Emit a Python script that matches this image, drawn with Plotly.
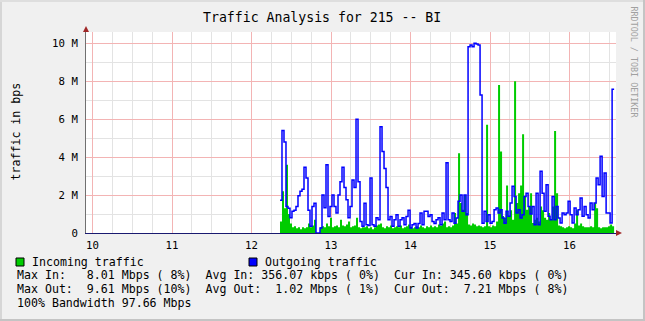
import plotly.graph_objects as go

# ---------------- data ----------------
START_HOUR = 12 + 21.5 / 60.0     # first sample time (hours)
STEP_MIN = 1.51                    # sample spacing (minutes)

# Incoming traffic (Mbps)
incoming = [
    0.6, 2.2, 1.3, 3.6, 1.0, 0.5, 0.3, 0.35, 0.25, 0.3,
    0.2, 0.3, 0.25, 0.3, 0.5, 0.3, 0.4, 0.7, 0.0, 0.0,
    0.3, 0.35, 0.3, 0.5, 0.35, 0.8, 0.3, 0.35, 0.4, 0.3,
    0.7, 0.4, 0.35, 0.45, 0.6, 0.3, 0.35, 0.4, 0.8, 0.3,
    0.25, 0.3, 0.3, 0.35, 0.25, 0.3, 0.2, 0.3, 0.4, 0.45,
    0.5, 0.3, 0.25, 0.35, 0.3, 0.4, 0.25, 0.3, 0.35, 0.3,
    0.4, 0.25, 0.3, 0.35, 0.45, 0.3, 0.25, 0.3, 0.35, 0.3,
    0.4, 0.3, 0.25, 0.35, 0.3, 0.4, 0.3, 0.35, 0.3, 0.45,
    0.4, 0.5, 0.6, 0.3, 0.35, 0.3, 0.4, 1.05, 0.5, 4.2,
    1.58, 1.23, 2.0, 1.05, 0.45, 0.4, 0.5, 0.45, 0.35, 0.4,
    0.35, 0.3, 0.35, 5.7, 0.35, 0.3, 0.4, 0.35, 0.6, 7.8,
    4.3, 0.9, 0.8, 2.5, 0.9, 1.2, 0.7, 8.0, 1.58, 2.1,
    2.5, 5.2, 1.93, 1.23, 1.4, 2.1, 0.53, 0.7, 0.8, 0.6,
    1.4, 1.2, 0.8, 0.7, 1.05, 0.7, 1.4, 5.38, 2.1, 0.4,
    0.35, 0.3, 0.25, 0.3, 0.35, 0.3, 0.25, 0.5, 1.2, 0.4,
    0.5, 0.35, 0.3, 0.3, 0.3, 0.35, 0.3, 1.58, 1.3, 0.3,
    0.25, 0.3, 0.3, 0.3, 0.35, 0.45, 0.35,
]

# Outgoing traffic (Mbps)
outgoing = [
    1.72, 5.4, 4.8, 1.4, 1.3, 0.8, 1.15, 1.2, 1.4, 1.97,
    2.2, 2.3, 3.47, 2.9, 1.2, 0.35, 1.4, 1.57, 0.0, 0.0,
    0.26, 2.0, 1.33, 3.6, 0.87, 1.4, 2.0, 1.4, 1.05, 2.0,
    2.7, 3.47, 2.4, 1.75, 0.8, 1.4, 2.8, 2.4, 6.0, 2.7,
    0.6, 0.35, 1.57, 0.43, 0.4, 2.9, 0.43, 0.35, 0.8, 0.7,
    5.6, 4.3, 3.4, 2.4, 0.7, 0.87, 0.35, 0.7, 0.96, 0.35,
    0.7, 0.8, 0.43, 0.87, 1.2, 0.26, 0.43, 0.5, 0.26, 0.5,
    1.05, 0.43, 1.15, 1.15, 0.87, 0.96, 0.6, 0.5, 0.7, 0.8,
    0.43, 1.05, 0.7, 3.7, 0.7, 0.61, 1.05, 0.52, 0.79, 1.67,
    2.0, 1.14, 2.0, 0.96, 9.82, 9.91, 9.82, 10.0, 9.96, 9.91,
    7.28, 0.52, 1.14, 0.61, 0.96, 0.52, 0.61, 1.23, 1.32, 1.05,
    1.23, 0.79, 0.52, 1.14, 0.88, 1.58, 2.46, 1.93, 1.05, 1.23,
    0.79, 0.96, 1.93, 2.1, 1.4, 1.0, 1.4, 0.44, 2.1, 0.44,
    3.25, 2.1, 1.14, 2.54, 0.88, 0.7, 1.93, 0.7, 1.4, 0.79,
    0.53, 1.05, 0.96, 1.05, 1.67, 0.96, 0.53, 1.32, 0.96, 1.23,
    1.84, 0.88, 1.4, 0.96, 0.79, 1.58, 1.23, 1.58, 2.9, 2.54,
    4.04, 1.93, 3.16, 1.05, 1.05, 0.53, 7.58,
]

x_ticks = [10, 11, 12, 13, 14, 15, 16]
x_ticktext = ["10", "11", "12", "13", "14", "15", "16"]
y_ticks = [0, 2, 4, 6, 8, 10]
y_ticktext = ["0", "2 M", "4 M", "6 M", "8 M", "10 M"]

title_text = "Traffic Analysis for 215 -- BI"
y_title = "traffic in bps"
legend_in = "Incoming traffic"
legend_out = "Outgoing traffic"
stat_lines = [
    "Max In:   8.01 Mbps ( 8%)  Avg In: 356.07 kbps ( 0%)  Cur In: 345.60 kbps ( 0%)",
    "Max Out:  9.61 Mbps (10%)  Avg Out:  1.02 Mbps ( 1%)  Cur Out:  7.21 Mbps ( 8%)",
    "100% Bandwidth 97.66 Mbps",
]
credit = "RRDTOOL / TOBI OETIKER"

# ---------------- figure ----------------
W, H = 645, 321
L, R, T, B = 86, 29, 32, 88
PW, PH = W - L - R, H - T - B

def px(x):
    return (x - L) / PW

def py(y):
    return (H - B - y) / PH

n = len(outgoing)
times = [START_HOUR + i * STEP_MIN / 60.0 for i in range(n + 1)]
inc_y = incoming + [incoming[-1]]
out_y = outgoing + [outgoing[-1]]

MONO = "DejaVu Sans Mono"
GREEN = "#00cc00"
BLUE = "#0000ff"

fig = go.Figure()
fig.add_trace(go.Scatter(
    x=times, y=inc_y, mode="lines",
    line=dict(shape="hv", width=0, color=GREEN),
    fill="tozeroy", fillcolor=GREEN, hoverinfo="skip", showlegend=False))
fig.add_trace(go.Scatter(
    x=times, y=out_y, mode="lines",
    line=dict(shape="hv", width=1.5, color=BLUE),
    hoverinfo="skip", showlegend=False))

fig.update_layout(
    width=W, height=H,
    margin=dict(l=L, r=R, t=T, b=B, pad=0),
    paper_bgcolor="#f0f0f0", plot_bgcolor="#ffffff",
    showlegend=False,
    font=dict(family=MONO, color="#000000"),
    xaxis=dict(
        range=[10 - (92.5 - L) / 79.5, 10 + (W - R - 92.5) / 79.5],
        tickmode="array", tickvals=x_ticks, ticktext=x_ticktext,
        showgrid=True, gridcolor="#f3b4b4", gridwidth=1,
        minor=dict(dtick=0.25, tick0=10, showgrid=True, gridcolor="#e3e3e3", gridwidth=1, ticks=""),
        showline=True, linecolor="#1a1a70", linewidth=1,
        zeroline=False, ticks="outside", ticklen=2, tickcolor="rgba(0,0,0,0)",
        tickfont=dict(family=MONO, size=10.7, color="#000000"),
        fixedrange=True,
    ),
    yaxis=dict(
        range=[0, 10 + (43.3 - T) / 19],
        tickmode="array", tickvals=y_ticks, ticktext=y_ticktext,
        showgrid=True, gridcolor="#f3b4b4", gridwidth=1,
        minor=dict(dtick=1, tick0=0, showgrid=True, gridcolor="#e3e3e3", gridwidth=1, ticks=""),
        showline=True, linecolor="#707070", linewidth=1,
        zeroline=False, ticks="outside", ticklen=5, tickcolor="rgba(0,0,0,0)",
        tickfont=dict(family=MONO, size=10.7, color="#000000"),
        fixedrange=True,
    ),
)

shapes = []
ARROW = "#a02828"
# y-axis arrow (top)
shapes.append(dict(type="path", xref="paper", yref="paper",
                   path=f"M {px(83)} {py(32)} L {px(89)} {py(32)} L {px(86)} {py(26)} Z",
                   fillcolor=ARROW, line=dict(width=0)))
# x-axis extension and arrow (right)
shapes.append(dict(type="line", xref="paper", yref="paper",
                   x0=px(616), x1=px(619), y0=py(233), y1=py(233),
                   line=dict(color="#555555", width=1)))
shapes.append(dict(type="path", xref="paper", yref="paper",
                   path=f"M {px(616)} {py(230)} L {px(616)} {py(236)} L {px(622)} {py(233)} Z",
                   fillcolor=ARROW, line=dict(width=0)))
# legend swatches
shapes.append(dict(type="rect", xref="paper", yref="paper",
                   x0=px(16), x1=px(24), y0=py(266), y1=py(258),
                   fillcolor=GREEN, line=dict(color="#000000", width=1)))
shapes.append(dict(type="rect", xref="paper", yref="paper",
                   x0=px(249), x1=px(257), y0=py(266), y1=py(258),
                   fillcolor=BLUE, line=dict(color="#000000", width=1)))
# 3D border
shapes.append(dict(type="rect", xref="paper", yref="paper",
                   x0=px(0), x1=px(2), y0=py(0), y1=py(H),
                   fillcolor="#d6d6d6", line=dict(width=0)))
shapes.append(dict(type="rect", xref="paper", yref="paper",
                   x0=px(0), x1=px(W), y0=py(0), y1=py(2),
                   fillcolor="#dedede", line=dict(width=0)))
shapes.append(dict(type="rect", xref="paper", yref="paper",
                   x0=px(W - 2), x1=px(W), y0=py(0), y1=py(H),
                   fillcolor="#c4c4c4", line=dict(width=0)))
shapes.append(dict(type="rect", xref="paper", yref="paper",
                   x0=px(0), x1=px(W), y0=py(H - 2), y1=py(H),
                   fillcolor="#c4c4c4", line=dict(width=0)))
fig.update_layout(shapes=shapes)

def nb(s):
    return s.replace(" ", "\u00a0")

ann = []
ann.append(dict(text=nb(title_text), x=px(322), y=py(17), xref="paper", yref="paper",
                xanchor="center", yanchor="middle", showarrow=False,
                font=dict(family=MONO, size=13.2, color="#000000")))
ann.append(dict(text=nb(y_title), x=px(15), y=py(131.5), xref="paper", yref="paper",
                xanchor="center", yanchor="middle", showarrow=False, textangle=-90,
                font=dict(family=MONO, size=11.6, color="#000000")))
ann.append(dict(text=nb(credit), x=px(634), y=py(62.5), xref="paper", yref="paper",
                xanchor="center", yanchor="middle", showarrow=False, textangle=90,
                font=dict(family=MONO, size=8.4, color="#a0a0a0")))
ann.append(dict(text=nb(legend_in), x=px(29.5), y=py(261.7), xref="paper", yref="paper",
                xanchor="left", yanchor="middle", showarrow=False,
                font=dict(family=MONO, size=11.6, color="#000000")))
ann.append(dict(text=nb(legend_out), x=px(262.5), y=py(261.7), xref="paper", yref="paper",
                xanchor="left", yanchor="middle", showarrow=False,
                font=dict(family=MONO, size=11.6, color="#000000")))
for s, yy in zip(stat_lines, [275, 289, 303]):
    ann.append(dict(text=nb(s), x=px(15), y=py(yy), xref="paper", yref="paper",
                    xanchor="left", yanchor="middle", showarrow=False,
                    font=dict(family=MONO, size=11.6, color="#000000")))
fig.update_layout(annotations=ann)

fig.write_html("out.html", config={"displayModeBar": False, "staticPlot": True})
